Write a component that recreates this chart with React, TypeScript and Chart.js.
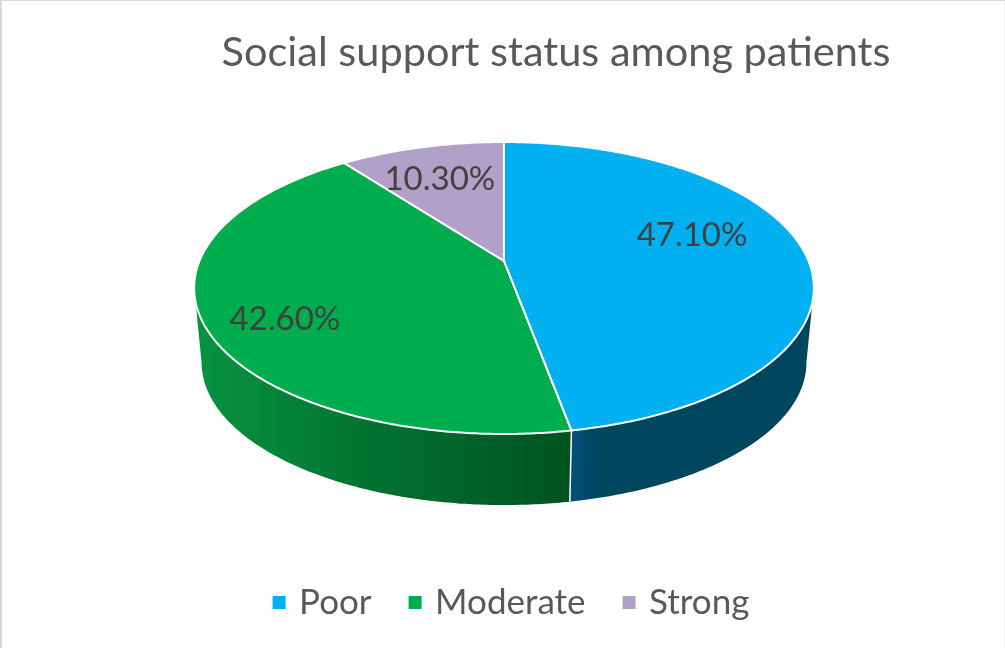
import React, { useEffect, useRef } from "react";
import { Chart, registerables } from "chart.js";

Chart.register(...registerables);

const categories = ["Poor", "Moderate", "Strong"];
const values = [47.1, 42.6, 10.3];
const topColors = ["#00B0F0", "#00AD4E", "#B1A0C7"];
const wallShades = [
  ["#01527A", "#00465F", "#00455E"],
  ["#06943F", "#016F30", "#00531F"],
  ["#6A6078", "#5A5166", "#4E4658"],
];
const titleText = "Social support status among patients";

// Perspective disc: centre vertex, half width, depth scale and foreshortening.
const CX = 504;
const CY = 261;
const A = 304.5;
const B = 141;
const K = -0.185;
// The lower rim is the upper rim shrunk slightly and dropped by the pie's height.
const RIM_SCALE = 0.976;
const RIM_DROP = 75.2;
// Per-slice label placement: radial fraction plus a small pixel nudge.
const LABEL_FRACTION = 0.62;
const labelNudges = [
  [2, -18],
  [-38, 21],
  [-10, -7],
];

const project = (angle: number, f = 1) => {
  const u = Math.cos(angle) * f;
  const v = Math.sin(angle) * f;
  const w = 1 + K * v;
  return { x: CX + (A * u) / w, y: CY + (B * v) / w };
};
const lower = (p: { x: number; y: number }) => ({
  x: CX + (p.x - CX) * RIM_SCALE,
  y: CY + RIM_DROP + (p.y - CY) * RIM_SCALE,
});

const sampleAngles = (a0: number, a1: number) => {
  const n = Math.max(2, Math.ceil(Math.abs(a1 - a0) / 0.01));
  return Array.from({ length: n + 1 }, (_, i) => a0 + ((a1 - a0) * i) / n);
};

const pie3d = {
  id: "pie3d",
  afterLayout(chart: any) {
    // The heading sits to the right of the pie's centre.
    chart.titleBlock.left += 43;
    chart.titleBlock.right += 43;
  },
  beforeDatasetsDraw(chart: any) {
    const ctx = chart.ctx as CanvasRenderingContext2D;
    const arcs = chart.getDatasetMeta(0).data as any[];
    // The rim silhouette is widest where sin(angle) = -K.
    const wallStart = Math.asin(-K);
    const wallEnd = Math.PI - wallStart;

    arcs.forEach((arc, i) => {
      const a0 = Math.max(arc.startAngle, wallStart);
      const a1 = Math.min(arc.endAngle, wallEnd);
      if (a1 <= a0) return;
      const upper = sampleAngles(a0, a1).map((a) => project(a));
      const bottom = upper.map(lower);
      const xs = upper.map((p) => p.x).concat(bottom.map((p) => p.x));
      const grad = ctx.createLinearGradient(Math.min(...xs), 0, Math.max(...xs), 0);
      const shades = wallShades[i];
      // The blue wall reaches its flat dark tone soon after the seam.
      const stops = i === 0 ? [0, 0.12, 1] : [0, 0.5, 1];
      shades.forEach((c, s) => grad.addColorStop(stops[s], c));
      ctx.beginPath();
      upper.forEach((p, k) => (k ? ctx.lineTo(p.x, p.y) : ctx.moveTo(p.x, p.y)));
      [...bottom].reverse().forEach((p) => ctx.lineTo(p.x, p.y));
      ctx.closePath();
      ctx.fillStyle = grad;
      ctx.fill();
    });

    // White seam where the two visible walls meet.
    const seamTop = project(arcs[0].endAngle);
    const seamBottom = lower(seamTop);
    ctx.beginPath();
    ctx.moveTo(seamTop.x, seamTop.y);
    ctx.lineTo(seamBottom.x, seamBottom.y);
    ctx.strokeStyle = "#FFFFFF";
    ctx.lineWidth = 1.5;
    ctx.stroke();

    arcs.forEach((arc, i) => {
      ctx.beginPath();
      ctx.moveTo(CX, CY);
      sampleAngles(arc.startAngle, arc.endAngle).forEach((a) => {
        const p = project(a);
        ctx.lineTo(p.x, p.y);
      });
      ctx.closePath();
      ctx.fillStyle = topColors[i];
      ctx.fill();
    });
    arcs.forEach((arc) => {
      ctx.beginPath();
      ctx.moveTo(CX, CY);
      sampleAngles(arc.startAngle, arc.endAngle).forEach((a) => {
        const p = project(a);
        ctx.lineTo(p.x, p.y);
      });
      ctx.closePath();
      ctx.strokeStyle = "#FFFFFF";
      ctx.lineWidth = 2;
      ctx.lineJoin = "round";
      ctx.stroke();
    });

    ctx.fillStyle = "#404040";
    ctx.font = '33px Lato, "Open Sans", sans-serif';
    ctx.textAlign = "center";
    ctx.textBaseline = "middle";
    arcs.forEach((arc, i) => {
      const p = project((arc.startAngle + arc.endAngle) / 2, LABEL_FRACTION);
      ctx.fillText(
        `${values[i].toFixed(2)}%`,
        p.x + labelNudges[i][0],
        p.y + labelNudges[i][1]
      );
    });
    return false;
  },
};

export default function App() {
  const ref = useRef<HTMLCanvasElement | null>(null);

  useEffect(() => {
    const chart = new Chart(ref.current!, {
      type: "pie",
      data: {
        labels: categories,
        datasets: [{ data: values, backgroundColor: topColors }],
      },
      options: {
        animation: false,
        responsive: false,
        layout: { padding: { left: 21, bottom: 18 } },
        plugins: {
          title: {
            display: true,
            text: titleText,
            color: "#595959",
            font: { family: 'Lato, "Open Sans", sans-serif', size: 41.5, weight: "normal" },
            padding: { top: 28, bottom: 10 },
          },
          legend: {
            position: "bottom",
            labels: {
              color: "#595959",
              font: { family: 'Lato, "Open Sans", sans-serif', size: 35 },
              usePointStyle: true,
              pointStyle: "rect",
              boxWidth: 5,
              boxHeight: 15,
              padding: 41,
            },
          },
          tooltip: { enabled: false },
        },
      },
      plugins: [pie3d],
    } as any);
    return () => chart.destroy();
  }, []);

  return (
    <div style={{ position: "fixed", left: 0, top: 0, width: 1005, height: 648, background: "#FFFFFF" }}>
      <canvas ref={ref} width={1005} height={648} style={{ display: "block" }} />
      <div
        style={{
          position: "absolute",
          inset: 0,
          boxSizing: "border-box",
          borderTop: "1px solid #D9D9D9",
          borderLeft: "2px solid #D9D9D9",
          borderRight: "1px solid #EFEFEF",
          pointerEvents: "none",
        }}
      />
    </div>
  );
}
